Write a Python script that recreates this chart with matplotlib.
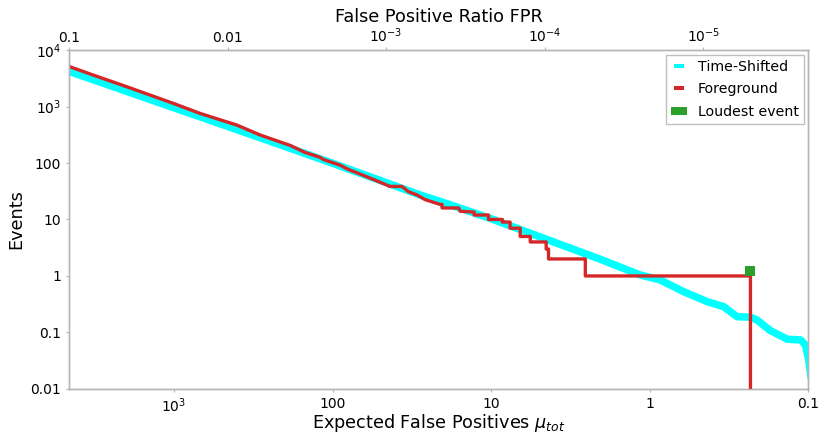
import numpy as np
import matplotlib.pyplot as plt
from matplotlib.ticker import FixedLocator, FuncFormatter, NullLocator
from matplotlib.path import Path
from matplotlib.lines import Line2D

# time-shifted background: expected false positives vs cumulative events
bg_mu = [5000, 4530, 2000, 1000, 500, 200, 100, 50, 28.1, 20, 10, 5, 2.05,
         1.148, 0.859, 0.612, 0.435, 0.342, 0.282, 0.232, 0.211, 0.174,
         0.136, 0.112, 0.1045, 0.0995, 0.096]
bg_n = [4560, 4150, 1870, 950, 485, 197, 99, 49, 27.2, 20, 10.3, 5.0, 1.97,
        1.04, 0.849, 0.527, 0.351, 0.286, 0.190, 0.186, 0.166, 0.108,
        0.0758, 0.0736, 0.060, 0.0326, 0.015]

# foreground (zero-lag) cumulative events
fg_mu = [5000, 4530, 3228, 1986, 1009, 686, 402, 286, 185, 150, 120, 114,
         90, 79.5, 70, 58, 50, 43.4, 36.5, 33.2, 29.4, 26.1, 21.0, 20.4,
         20.4, 16.0, 15.7, 12.8, 12.8, 10.4, 10.4, 8.5, 8.5, 7.6, 7.6,
         6.56, 6.56, 5.67, 5.67, 4.5, 4.5, 4.35, 4.35, 2.55, 2.55, 0.232,
         0.232]
fg_n = [5600, 5070, 3610, 2244, 1138, 757, 471, 313, 205, 155, 126, 115,
        92, 77, 67, 54, 45.5, 38.5, 38.5, 31, 27.2, 22.5, 18.5, 18.5,
        16, 16, 14, 13.5, 12, 12, 10, 10, 9, 9, 7, 7, 5, 5, 4, 4, 3, 3, 2,
        2, 1, 1, 0.001]

loud_mu = [0.232]
loud_n = [1.22]

n_trials = 45940  # mu_tot = FPR * n_trials

x_ticks = [1e3, 100, 10, 1, 0.1]
top_ticks = [0.1, 0.01, 1e-3, 1e-4, 1e-5]
y_ticks = [1e4, 1e3, 100, 10, 1, 0.1, 0.01]

GREY = '#b5b5b5'


def fmt(v, pos=None):
    if 0.01 <= v <= 100:
        return '%g' % v
    return r'$10^{%d}$' % round(np.log10(v))


def main():
    plt.rcParams['font.family'] = 'DejaVu Sans'
    fig = plt.figure(figsize=(8.3, 4.47), dpi=100)
    ax = fig.add_axes([0.083, 0.130, 0.891, 0.758])

    ax.plot(bg_mu, bg_n, color='#00ffff', linewidth=5.4,
            solid_capstyle='butt', zorder=2)
    ax.plot(fg_mu, fg_n, color='#d62728', linewidth=2.4, zorder=3)
    ax.plot(loud_mu, loud_n, 's', color='#2ca02c', markersize=6.5,
            markeredgewidth=0, zorder=4)

    ax.set_xscale('log')
    ax.set_yscale('log')
    ax.set_xlim(4594, 0.1)
    ax.set_ylim(0.01, 1e4)

    ax.xaxis.set_major_locator(FixedLocator(x_ticks))
    ax.yaxis.set_major_locator(FixedLocator(y_ticks))
    ax.xaxis.set_major_formatter(FuncFormatter(fmt))
    ax.yaxis.set_major_formatter(FuncFormatter(fmt))
    ax.xaxis.set_minor_locator(NullLocator())
    ax.yaxis.set_minor_locator(NullLocator())

    ax2 = ax.twiny()
    ax2.set_xscale('log')
    lo, hi = ax.get_xlim()
    ax2.set_xlim(lo / n_trials, hi / n_trials)
    ax2.xaxis.set_major_locator(FixedLocator(top_ticks))
    ax2.xaxis.set_major_formatter(FuncFormatter(fmt))
    ax2.xaxis.set_minor_locator(NullLocator())

    for a in (ax, ax2):
        for s in a.spines.values():
            s.set_color(GREY)
            s.set_linewidth(1.0)
        a.tick_params(which='both', length=2.5, width=0.8, color=GREY,
                      pad=3, labelsize=10)
    ax2.tick_params(pad=1)

    ax.set_xlabel(r'Expected False Positives $\mu_{tot}$', fontsize=12.7,
                  labelpad=-2)
    ax.set_ylabel('Events', fontsize=12.7)
    ax2.set_xlabel('False Positive Ratio FPR', fontsize=12.7, labelpad=3.5)

    thin = Path([(-1, -0.42), (1, -0.42), (1, 0.42), (-1, 0.42), (-1, -0.42)],
                closed=True)
    wide = Path([(-1, -0.47), (1, -0.47), (1, 0.47), (-1, 0.47), (-1, -0.47)],
                closed=True)
    handles = [
        Line2D([], [], linestyle='none', marker=thin, markersize=7.2,
               color='#00ffff', markeredgewidth=0),
        Line2D([], [], linestyle='none', marker=thin, markersize=7.2,
               color='#d62728', markeredgewidth=0),
        Line2D([], [], linestyle='none', marker=wide, markersize=12.2,
               color='#2ca02c', markeredgewidth=0),
    ]
    leg = ax2.legend(handles, ['Time-Shifted', 'Foreground', 'Loudest event'],
                     loc='upper right', fontsize=10.2, numpoints=1,
                     handlelength=1.13, handletextpad=0.76,
                     borderpad=0.35, labelspacing=0.6,
                     borderaxespad=0.33, fancybox=False, framealpha=1)
    leg.get_frame().set_edgecolor('#c0c0c0')
    leg.get_frame().set_linewidth(1.0)

    fig.savefig('out.png', dpi=100)


if __name__ == '__main__':
    main()
